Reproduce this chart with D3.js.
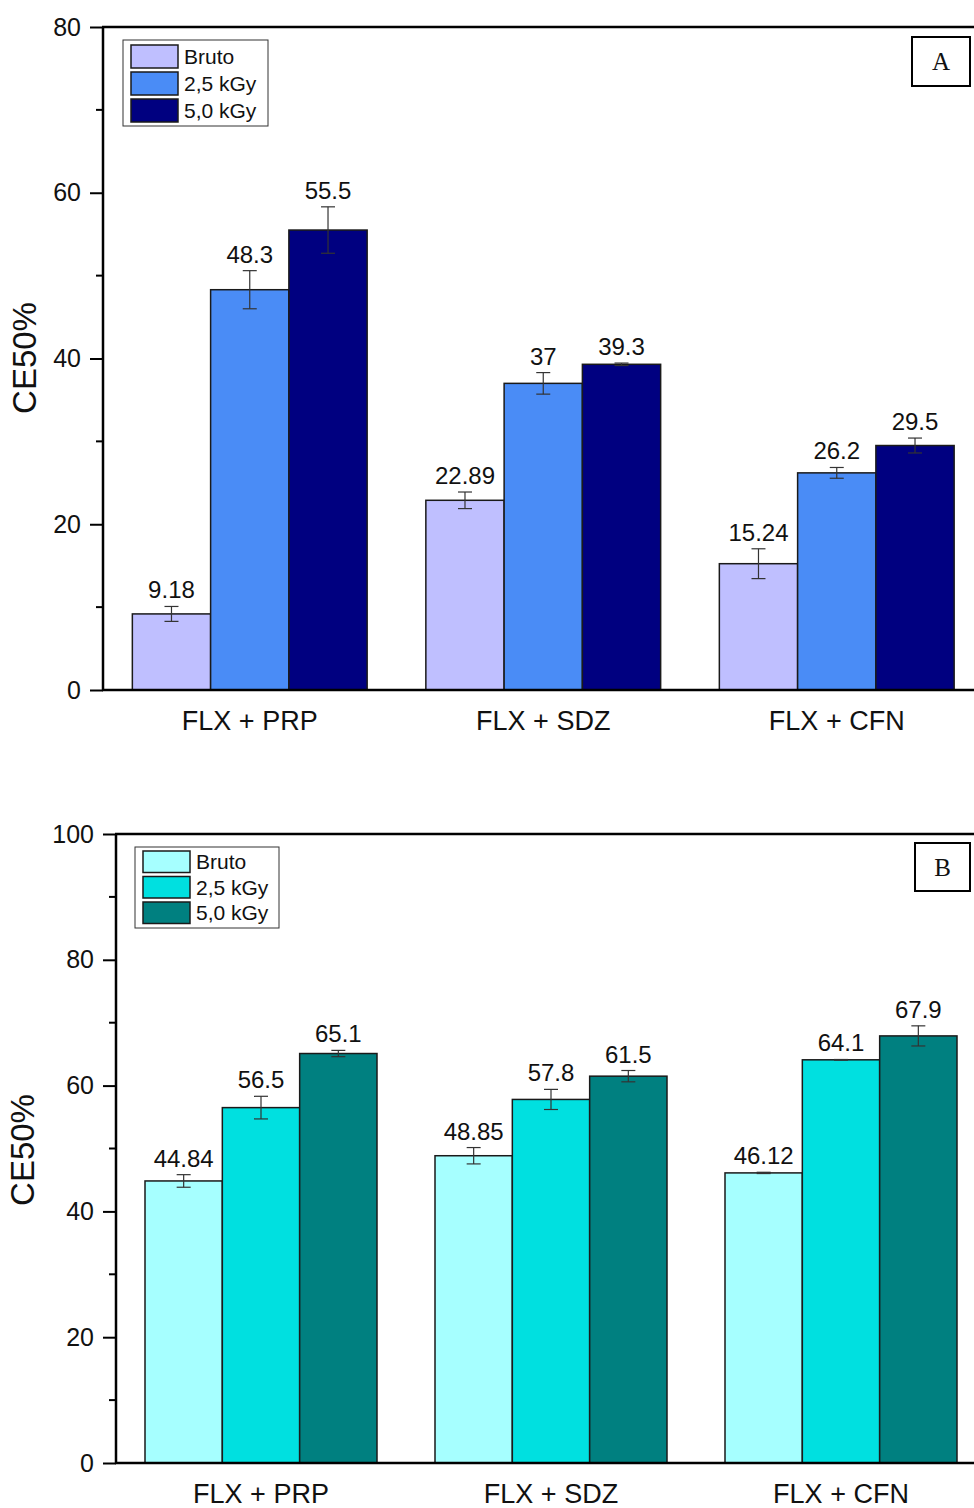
<!DOCTYPE html>
<html>
<head>
<meta charset="utf-8">
<script src="https://cdn.jsdelivr.net/npm/d3@7"></script>
<style>
  html, body { margin: 0; padding: 0; background: #fff; }
  svg { display: block; }
</style>
</head>
<body>
<svg id="chart" width="974" height="1508"></svg>
<script>
const categories = ["FLX + PRP", "FLX + SDZ", "FLX + CFN"];
const seriesNames = ["Bruto", "2,5 kGy", "5,0 kGy"];

// panel A
const valuesA = [
  [9.18, 48.3, 55.5],
  [22.89, 37, 39.3],
  [15.24, 26.2, 29.5]
];
const errorsA = [
  [0.9, 2.3, 2.8],
  [1.0, 1.3, 0.15],
  [1.8, 0.65, 0.9]
];
const labelsA = [
  ["9.18", "48.3", "55.5"],
  ["22.89", "37", "39.3"],
  ["15.24", "26.2", "29.5"]
];
const ticksA = [0, 20, 40, 60, 80];
const minorA = [10, 30, 50, 70];
const colorsA = ["#BFBFFF", "#4A8CF6", "#000080"];

// panel B
const valuesB = [
  [44.84, 56.5, 65.1],
  [48.85, 57.8, 61.5],
  [46.12, 64.1, 67.9]
];
const errorsB = [
  [1.0, 1.8, 0.5],
  [1.3, 1.6, 0.9],
  [0.1, 0.05, 1.6]
];
const labelsB = [
  ["44.84", "56.5", "65.1"],
  ["48.85", "57.8", "61.5"],
  ["46.12", "64.1", "67.9"]
];
const ticksB = [0, 20, 40, 60, 80, 100];
const minorB = [10, 30, 50, 70, 90];
const colorsB = ["#A6FFFF", "#00E0E0", "#008080"];

const FONT = "Arial, 'Liberation Sans', sans-serif";
const svg = d3.select("#chart");

function drawPanel(opt) {
  const { left, top, bottom, right, yMax, ticks, minor, values, errors, labels, colors, letter, legend, box } = opt;

  const g = svg.append("g");

  const x = d3.scaleBand()
    .domain(categories)
    .range([left, right])
    .paddingInner(0.2)
    .paddingOuter(0.1);

  const xs = d3.scaleBand()
    .domain(seriesNames)
    .range([0, x.bandwidth()]);

  const y = d3.scaleLinear()
    .domain([0, yMax])
    .range([bottom, top]);

  // bars
  categories.forEach((cat, ci) => {
    seriesNames.forEach((s, si) => {
      const v = values[ci][si];
      const e = errors[ci][si];
      const bx = x(cat) + xs(s);
      const cx = bx + xs.bandwidth() / 2;
      g.append("rect")
        .attr("x", bx)
        .attr("y", y(v))
        .attr("width", xs.bandwidth())
        .attr("height", y(0) - y(v))
        .attr("fill", colors[si])
        .attr("stroke", "#1a1a1a")
        .attr("stroke-width", 1.5);

      // error bar
      const eg = g.append("g").attr("stroke", "#333").attr("stroke-width", 1.2);
      eg.append("line").attr("x1", cx).attr("x2", cx).attr("y1", y(v - e)).attr("y2", y(v + e));
      eg.append("line").attr("x1", cx - 7).attr("x2", cx + 7).attr("y1", y(v + e)).attr("y2", y(v + e));
      eg.append("line").attr("x1", cx - 7).attr("x2", cx + 7).attr("y1", y(v - e)).attr("y2", y(v - e));

      g.append("text")
        .attr("x", cx)
        .attr("y", y(v + e) - 8)
        .attr("text-anchor", "middle")
        .attr("font-family", FONT)
        .attr("font-size", 24)
        .attr("fill", "#111")
        .text(labels[ci][si]);
    });
  });

  // y axis
  const yAxis = g.append("g")
    .attr("transform", `translate(${left},0)`)
    .call(d3.axisLeft(y).tickValues(ticks).tickSize(13).tickPadding(9).tickFormat(d3.format("d")));
  yAxis.select(".domain").remove();
  yAxis.selectAll("line").attr("stroke", "#000").attr("stroke-width", 2);
  yAxis.selectAll("text").attr("font-family", FONT).attr("font-size", 25).attr("fill", "#111");

  g.append("g")
    .selectAll("line")
    .data(minor)
    .join("line")
    .attr("x1", left - 7).attr("x2", left)
    .attr("y1", d => y(d)).attr("y2", d => y(d))
    .attr("stroke", "#000").attr("stroke-width", 2);

  // frame lines
  g.append("line").attr("x1", left).attr("x2", left).attr("y1", top).attr("y2", bottom)
    .attr("stroke", "#000").attr("stroke-width", 2.5);
  g.append("line").attr("x1", left - 1).attr("x2", 974).attr("y1", bottom).attr("y2", bottom)
    .attr("stroke", "#000").attr("stroke-width", 2.5);
  g.append("line").attr("x1", left - 1).attr("x2", 974).attr("y1", top).attr("y2", top)
    .attr("stroke", "#000").attr("stroke-width", 2.5);

  // category labels
  g.append("g")
    .selectAll("text")
    .data(categories)
    .join("text")
    .attr("x", d => x(d) + x.bandwidth() / 2)
    .attr("y", bottom + 40)
    .attr("text-anchor", "middle")
    .attr("font-family", FONT)
    .attr("font-size", 27)
    .attr("fill", "#111")
    .text(d => d);

  // y title
  g.append("text")
    .attr("transform", `translate(${opt.titleX},${opt.titleY}) rotate(-90)`)
    .attr("text-anchor", "middle")
    .attr("font-family", FONT)
    .attr("font-size", 33)
    .attr("fill", "#111")
    .text("CE50%");

  // legend
  const lg = g.append("g").attr("transform", `translate(${legend.x},${legend.y})`);
  lg.append("rect")
    .attr("width", legend.w).attr("height", legend.h)
    .attr("fill", "#fff").attr("stroke", "#333").attr("stroke-width", 1);
  seriesNames.forEach((s, i) => {
    const ry = legend.pad + i * legend.row;
    lg.append("rect")
      .attr("x", 8).attr("y", ry)
      .attr("width", 47).attr("height", legend.row - 4)
      .attr("fill", colors[i]).attr("stroke", "#1a1a1a").attr("stroke-width", 1.5);
    lg.append("text")
      .attr("x", 61).attr("y", ry + (legend.row - 4) / 2)
      .attr("dy", "0.36em")
      .attr("font-family", FONT)
      .attr("font-size", 21)
      .attr("fill", "#111")
      .text(s);
  });

  // panel letter
  g.append("rect")
    .attr("x", box.x).attr("y", box.y).attr("width", box.w).attr("height", box.h)
    .attr("fill", "#fff").attr("stroke", "#000").attr("stroke-width", 2);
  g.append("text")
    .attr("x", box.x + box.w / 2).attr("y", box.y + box.h / 2)
    .attr("dy", "0.35em")
    .attr("text-anchor", "middle")
    .attr("font-family", "'Liberation Serif', 'Times New Roman', serif")
    .attr("font-size", 25)
    .attr("fill", "#111")
    .text(letter);
}

drawPanel({
  left: 103, top: 27, bottom: 690, right: 983.5, yMax: 80,
  ticks: ticksA, minor: minorA, values: valuesA, errors: errorsA, labels: labelsA,
  colors: colorsA, letter: "A",
  titleX: 36, titleY: 358,
  legend: { x: 123, y: 40, w: 145, h: 86, pad: 5, row: 27 },
  box: { x: 912, y: 37, w: 58, h: 49 }
});

drawPanel({
  left: 116, top: 834, bottom: 1463, right: 986, yMax: 100,
  ticks: ticksB, minor: minorB, values: valuesB, errors: errorsB, labels: labelsB,
  colors: colorsB, letter: "B",
  titleX: 34, titleY: 1150,
  legend: { x: 135, y: 847, w: 144, h: 81, pad: 4, row: 25.5 },
  box: { x: 915, y: 843, w: 55, h: 48 }
});
</script>
</body>
</html>
